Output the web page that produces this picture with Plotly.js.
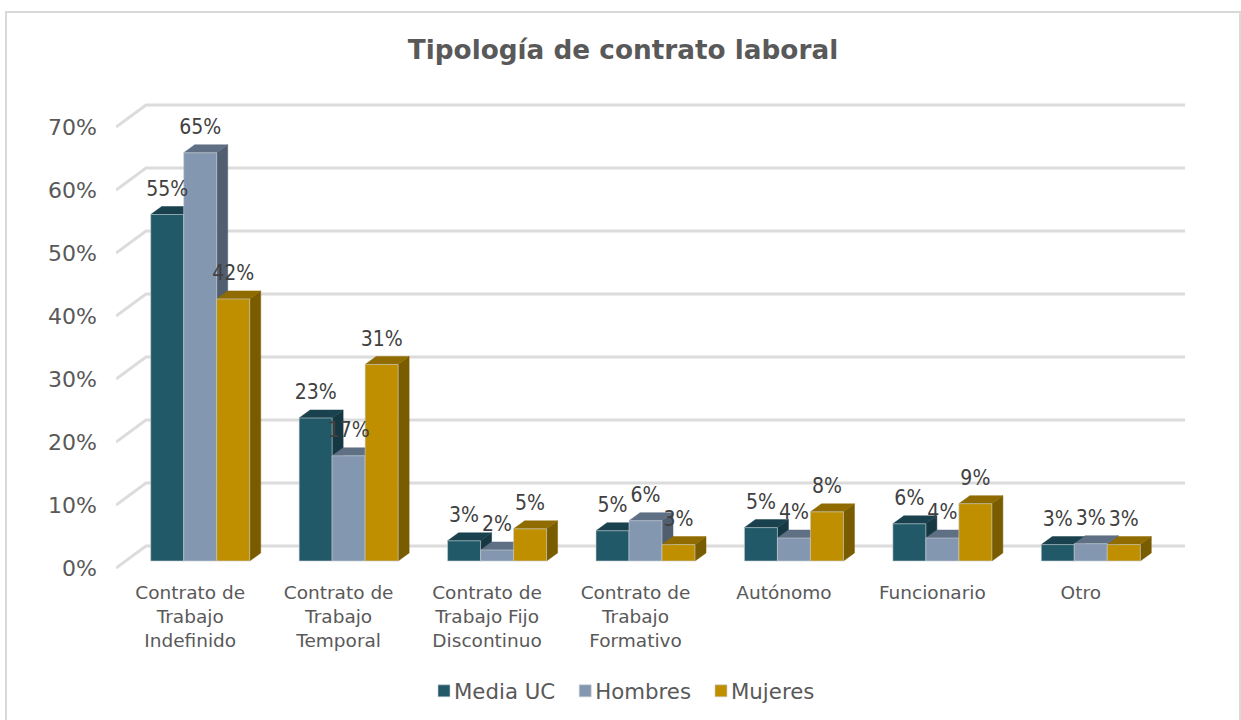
<!DOCTYPE html>
<html><head><meta charset="utf-8">
<script src="https://cdn.plot.ly/plotly-3.0.0.min.js"></script>
<style>html,body{margin:0;padding:0;background:#fff;overflow:hidden}
#frame{position:absolute;left:5px;top:11px;width:1236px;height:720px;border:2px solid #d9d9d9;box-sizing:border-box;pointer-events:none}
#chart{position:absolute;left:0;top:0;width:1241px;height:720px}</style>
</head><body><div id="chart"></div><div id="frame"></div>
<script>
const categories = ['Contrato de<br>Trabajo<br>Indefinido','Contrato de<br>Trabajo<br>Temporal','Contrato de<br>Trabajo Fijo<br>Discontinuo','Contrato de<br>Trabajo<br>Formativo','Autónomo','Funcionario','Otro'];
const mediaUC = [0.55,0.227,0.032,0.048,0.053,0.059,0.026];
const hombres = [0.648,0.167,0.0175,0.064,0.0365,0.0365,0.0275];
const mujeres = [0.416,0.312,0.051,0.026,0.078,0.091,0.026];
const yTicks = [0,0.1,0.2,0.3,0.4,0.5,0.6,0.7];

const seriesList = [
 {name:'Media UC', values:mediaUC, front:'#215968', top:'#1a424e', side:'#163843'},
 {name:'Hombres',  values:hombres, front:'#8497b0', top:'#5f6f84', side:'#515e70'},
 {name:'Mujeres',  values:mujeres, front:'#bf8f00', top:'#8f6b00', side:'#7a5c00'}
];

// scale of the oblique projection
const PX_X = 1039/7, PX_Y = 630;
const dxBack = 30/PX_X, dyBack = 22/PX_Y;
const barShift = 10/PX_X, barW = 33/PX_X;
const dxDepth = 11/PX_X, dyDepth = 8/PX_Y;
const planeY = 7/PX_Y;
const xMin = -0.5, xMax = -0.5 + 1069/PX_X;
const lastFront = categories.length - 0.5;

const traces = [];
// gridlines: oblique floor edge + back wall line
const gx = [], gy = [];
yTicks.forEach(v => {
  gx.push(xMin, xMin+dxBack, lastFront+dxBack, null);
  gy.push(v, v+dyBack, v+dyBack, null);
});
traces.push({type:'scatter',mode:'lines',x:gx,y:gy,line:{color:'#dcdcdc',width:3},showlegend:false,hoverinfo:'skip',cliponaxis:false,xaxis:'x',yaxis:'y'});

const barX = (i,s) => i + barShift + (s-1)*barW;

// depth faces, left to right
categories.forEach((c,i) => {
  seriesList.forEach((S,s) => {
    const v = S.values[i], l = barX(i,s)-barW/2, r = barX(i,s)+barW/2;
    const y0 = planeY, y1 = v+planeY;
    traces.push({type:'scatter',mode:'lines',fill:'toself',fillcolor:S.side,line:{color:S.side,width:0.5},
      x:[r,r+dxDepth,r+dxDepth,r,r], y:[y0,y0+dyDepth,y1+dyDepth,y1,y0],
      showlegend:false,hoverinfo:'skip',cliponaxis:false,xaxis:'x',yaxis:'y'});
    traces.push({type:'scatter',mode:'lines',fill:'toself',fillcolor:S.top,line:{color:S.top,width:0.5},
      x:[l,r,r+dxDepth,l+dxDepth,l], y:[y1,y1,y1+dyDepth,y1+dyDepth,y1],
      showlegend:false,hoverinfo:'skip',cliponaxis:false,xaxis:'x',yaxis:'y'});
  });
});

// front faces
seriesList.forEach((S,s) => {
  traces.push({type:'bar',name:S.name,x:categories.map((c,i)=>barX(i,s)),y:S.values,width:barW,
    marker:{color:S.front,line:{color:'rgba(200,208,214,0.6)',width:1}},xaxis:'x',yaxis:'y2',hoverinfo:'y'});
});
// data labels
seriesList.forEach((S,s) => {
  traces.push({type:'scatter',mode:'text',x:categories.map((c,i)=>barX(i,s)),y:S.values,
    text:S.values.map(v=>Math.round(v*100)+'%'),textposition:'top center',
    textfont:{family:'DejaVu Sans Condensed',size:21,color:'#404040'},showlegend:false,hoverinfo:'skip',cliponaxis:false,xaxis:'x',yaxis:'y3'});
});

const plotBottomPad = 7, plotHeight = 480;
const layout = {
  width:1241,height:720,paper_bgcolor:'#fff',plot_bgcolor:'rgba(0,0,0,0)',
  margin:{l:116,r:56,t:95,b:145,pad:0},
  font:{family:'DejaVu Sans',color:'#595959'},
  barmode:'overlay',
  title:{text:'Tipología de contrato laboral',font:{family:'DejaVu Sans',size:26.3,weight:700,color:'#595959'},x:623/1241,xanchor:'center',xref:'container',y:1-50/720,yanchor:'middle',yref:'container'},
  xaxis:{type:'linear',range:[xMin,xMax],tickvals:categories.map((c,i)=>i),ticktext:categories,tickangle:0,showgrid:false,zeroline:false,showline:false,ticks:'',tickfont:{size:18.5,family:'DejaVu Sans',color:'#595959'},ticklabelstandoff:4},
  yaxis:{range:[-plotBottomPad/PX_Y,(plotHeight-plotBottomPad)/PX_Y],tickvals:yTicks,tickformat:'.0%',showgrid:false,zeroline:false,showline:false,ticks:'',tickfont:{size:22,family:'DejaVu Sans',color:'#595959'},ticklabelstandoff:18},
  yaxis2:{overlaying:'y',anchor:'x',side:'left',visible:false,range:[-14/PX_Y,466/PX_Y]},
  yaxis3:{overlaying:'y',anchor:'x',side:'left',visible:false,range:[-27.5/PX_Y,452.5/PX_Y]},
  legend:{orientation:'h',xref:'container',yref:'container',x:424/1241,xanchor:'left',y:1-691/720,yanchor:'middle',font:{size:21.3,family:'DejaVu Sans',color:'#595959'},itemclick:false,itemdoubleclick:false,bgcolor:'rgba(0,0,0,0)'},
  showlegend:true
};
Plotly.newPlot('chart',traces,layout,{displayModeBar:false,responsive:false}).then(gd => {
  // tighten the legend: text sits close to the swatch and entries pack closer
  gd.querySelectorAll('.legend .traces').forEach((g,k) => {
    const m = /translate\(\s*([-\d.]+)[ ,]+([-\d.]+)\s*\)/.exec(g.getAttribute('transform'));
    if (m) g.setAttribute('transform','translate('+(parseFloat(m[1])-5*k)+','+m[2]+')');
    const t = g.querySelector('.legendtext');
    if (t) t.setAttribute('x', parseFloat(t.getAttribute('x'))-10);
  });
});
</script></body></html>
